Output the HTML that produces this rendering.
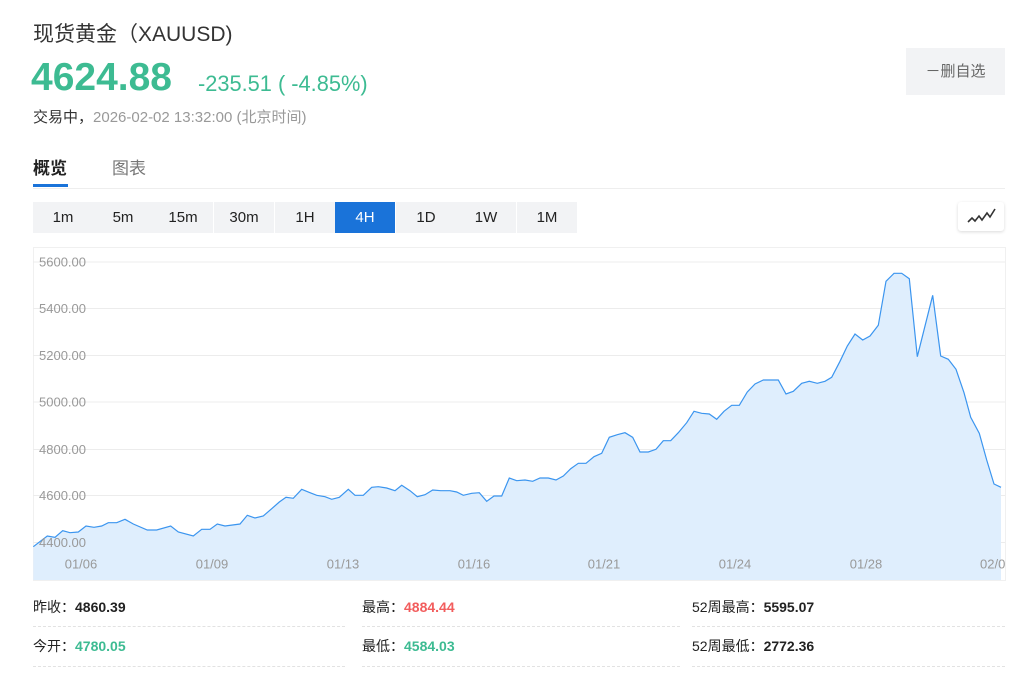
<!DOCTYPE html>
<html><head><meta charset="utf-8"><style>
body{margin:0;width:1024px;height:677px;background:#fff;font-family:"Liberation Sans","Noto Sans CJK SC",sans-serif;position:relative;overflow:hidden;color:#333}
.a{position:absolute;white-space:nowrap}
.btn{position:absolute;top:202px;height:31px;width:60px;line-height:31px;text-align:center;font-size:15px;background:#f2f3f5;color:#222}
.st{position:absolute;font-size:14px;color:#222}
.st b{font-weight:bold}
.dl{position:absolute;height:0;border-top:1px dashed #e2e2e2}
</style></head><body>
<div class="a" style="left:33px;top:18px;font-size:21px;color:#333">现货黄金（XAUUSD)</div>
<div class="a" style="left:31px;top:56px;font-size:39px;font-weight:bold;color:#3dbb92">4624.88</div>
<div class="a" style="left:198px;top:71px;font-size:21.8px;color:#3dbb92">-235.51 ( -4.85%)</div>
<div class="a" style="left:33px;top:106px;font-size:15px;color:#333">交易中，<span style="color:#999">2026-02-02 13:32:00 (北京时间)</span></div>
<div class="a" style="left:906px;top:48px;width:99px;height:47px;background:#f2f3f5;line-height:47px;text-align:center;font-size:15px;color:#666">－删自选</div>
<div class="a" style="left:33px;top:154px;font-size:17px;font-weight:bold;color:#222">概览</div>
<div class="a" style="left:112px;top:154px;font-size:17px;color:#777">图表</div>
<div class="a" style="left:33px;top:184px;width:35px;height:3px;background:#1a73d9"></div>
<div class="a" style="left:33px;top:188px;width:972px;height:1px;background:#eee"></div>
<div class="btn" style="left:33px">1m</div><div class="btn" style="left:93px">5m</div><div class="btn" style="left:153px">15m</div><div class="btn" style="left:214px">30m</div><div class="btn" style="left:275px">1H</div><div class="btn" style="left:335px;background:#1a73d9;color:#fff">4H</div><div class="btn" style="left:396px">1D</div><div class="btn" style="left:456px">1W</div><div class="btn" style="left:517px">1M</div>
<div class="a" style="left:958px;top:202px;width:46px;height:29px;background:#fff;box-shadow:0 1px 3px rgba(0,0,0,.15);border-radius:3px">
<svg width="46" height="29"><polyline points="10,20 14,16 17,19 21,14 24,18 29,11 32,15 37,7" fill="none" stroke="#333" stroke-width="1.6"/></svg></div>
<svg class="a" style="left:0;top:0" width="1024" height="600">
<rect x="33.5" y="247.5" width="972" height="333" fill="none" stroke="#f0f0f0"/>
<g stroke="#ececec" stroke-width="1">
<line x1="33" x2="1005" y1="262" y2="262"/><line x1="33" x2="1005" y1="308.5" y2="308.5"/><line x1="33" x2="1005" y1="355.5" y2="355.5"/><line x1="33" x2="1005" y1="402" y2="402"/><line x1="33" x2="1005" y1="449.5" y2="449.5"/><line x1="33" x2="1005" y1="495.5" y2="495.5"/><line x1="33" x2="1005" y1="542.5" y2="542.5"/></g>
<polygon fill="#dfeefd" points="33.3,546.7 47.3,536 55,537.3 62.7,530.7 70,532.7 78.3,532 86,526 94,527.3 101.7,526 108.3,522.7 116.7,522.7 125,519.3 133.3,524 147.3,530 156.7,530 170.7,526 178.3,532 193.3,536 201.7,529.3 210,529.3 217.3,524 225,526 240,524 247.3,515.3 255,518 263.3,516 271.7,508.7 279.3,502 286,497.3 293.3,498.3 301.7,489.3 310,492.7 316.7,495.3 325,496.7 331.7,499.3 339.3,497.3 348.3,489.3 355,495.3 363.3,495.3 371.7,487.3 378.3,486.7 386.7,488 395,490.7 401.7,485.3 410,490.7 417.3,496.7 425,494.7 432.7,490 440.7,490.7 450,490.7 456.7,492 463.3,495.3 471.7,493.3 479.3,492.7 486.7,501.3 494,496 501.7,496 509.3,478 516.7,480.7 525,480 532.7,481.3 540,478 548.3,478 556,480 563.3,476 570.7,468.7 578.3,463.3 586,463.3 594,456.7 601.7,453.3 609.3,437.3 617.3,434.7 625,432.7 632.7,437.3 640,452 648.3,452 656,449.3 663.3,440.7 670.7,440.7 678.3,432.7 686.7,422.7 694,411.3 701.7,413.3 709.3,414 716.7,419.3 724,411.3 731.7,405.3 739.3,405.3 747.3,392 755,384 763.3,380 770.7,380 778.3,380 786,394 793.3,391.3 801.7,383.3 809.3,381.3 817.3,383.3 825,381.3 831.7,377.3 840,361.3 847.3,346 855,334 862.7,340 870,336 878.3,325.3 886,281.3 894,273.3 901.7,273.3 909.3,278.7 917.3,356.7 932.7,295.3 940.7,356 948.3,359.3 956,369.3 964,392.7 970.7,417.3 979.3,433.3 986.7,460 994,484 1001,487.3 1001,580 33.3,580"/>
<polyline fill="none" stroke="#3b95ef" stroke-width="1.2" points="33.3,546.7 47.3,536 55,537.3 62.7,530.7 70,532.7 78.3,532 86,526 94,527.3 101.7,526 108.3,522.7 116.7,522.7 125,519.3 133.3,524 147.3,530 156.7,530 170.7,526 178.3,532 193.3,536 201.7,529.3 210,529.3 217.3,524 225,526 240,524 247.3,515.3 255,518 263.3,516 271.7,508.7 279.3,502 286,497.3 293.3,498.3 301.7,489.3 310,492.7 316.7,495.3 325,496.7 331.7,499.3 339.3,497.3 348.3,489.3 355,495.3 363.3,495.3 371.7,487.3 378.3,486.7 386.7,488 395,490.7 401.7,485.3 410,490.7 417.3,496.7 425,494.7 432.7,490 440.7,490.7 450,490.7 456.7,492 463.3,495.3 471.7,493.3 479.3,492.7 486.7,501.3 494,496 501.7,496 509.3,478 516.7,480.7 525,480 532.7,481.3 540,478 548.3,478 556,480 563.3,476 570.7,468.7 578.3,463.3 586,463.3 594,456.7 601.7,453.3 609.3,437.3 617.3,434.7 625,432.7 632.7,437.3 640,452 648.3,452 656,449.3 663.3,440.7 670.7,440.7 678.3,432.7 686.7,422.7 694,411.3 701.7,413.3 709.3,414 716.7,419.3 724,411.3 731.7,405.3 739.3,405.3 747.3,392 755,384 763.3,380 770.7,380 778.3,380 786,394 793.3,391.3 801.7,383.3 809.3,381.3 817.3,383.3 825,381.3 831.7,377.3 840,361.3 847.3,346 855,334 862.7,340 870,336 878.3,325.3 886,281.3 894,273.3 901.7,273.3 909.3,278.7 917.3,356.7 932.7,295.3 940.7,356 948.3,359.3 956,369.3 964,392.7 970.7,417.3 979.3,433.3 986.7,460 994,484 1001,487.3"/>
<g font-family="Liberation Sans,sans-serif" font-size="13" fill="#999">
<text x="39" y="266.5">5600.00</text><text x="39" y="313">5400.00</text><text x="39" y="360">5200.00</text><text x="39" y="406.5">5000.00</text><text x="39" y="454">4800.00</text><text x="39" y="500">4600.00</text><text x="39" y="547">4400.00</text>
<g text-anchor="middle"><text x="81" y="568.5">01/06</text><text x="212" y="568.5">01/09</text><text x="343" y="568.5">01/13</text><text x="474" y="568.5">01/16</text><text x="604" y="568.5">01/21</text><text x="735" y="568.5">01/24</text><text x="866" y="568.5">01/28</text></g>
<text x="980" y="568.5">02/0</text></g>
</svg>
<div class="st" style="left:33px;top:597px">昨收：<b>4860.39</b></div>
<div class="st" style="left:362px;top:597px">最高：<b style="color:#f25d5d">4884.44</b></div>
<div class="st" style="left:692px;top:597px">52周最高：<b>5595.07</b></div>
<div class="st" style="left:33px;top:636px">今开：<b style="color:#3dbb92">4780.05</b></div>
<div class="st" style="left:362px;top:636px">最低：<b style="color:#3dbb92">4584.03</b></div>
<div class="st" style="left:692px;top:636px">52周最低：<b>2772.36</b></div>
<div class="dl" style="left:33px;top:626px;width:312px"></div><div class="dl" style="left:362px;top:626px;width:318px"></div><div class="dl" style="left:692px;top:626px;width:313px"></div>
<div class="dl" style="left:33px;top:666px;width:312px"></div><div class="dl" style="left:362px;top:666px;width:318px"></div><div class="dl" style="left:692px;top:666px;width:313px"></div>
</body></html>
